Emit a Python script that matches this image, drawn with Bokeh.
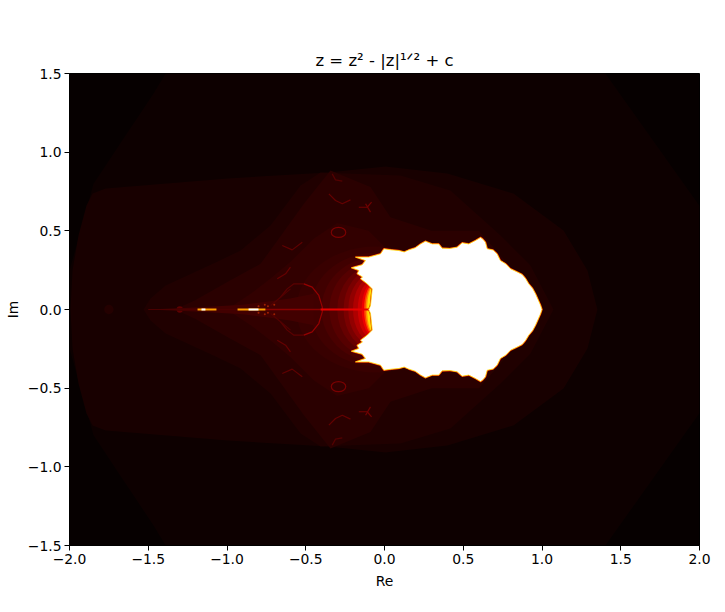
from bokeh.plotting import figure
from bokeh.embed import file_html
from bokeh.resources import INLINE
from bokeh.models import Range1d, FixedTicker

# ---- values (upper half; the picture is mirrored about Im = 0) ----
title_text = "z = z\u00b2 - |z|\u00b9\u141f\u00b2 + c"
x_name = "Re"
y_name = "Im"
tick_x = [-2.0, -1.5, -1.0, -0.5, 0.0, 0.5, 1.0, 1.5, 2.0]
tick_y = [-1.5, -1.0, -0.5, 0.0, 0.5, 1.0, 1.5]

outer_re = [-2.0, -1.848, -1.467, -1.39, 1.403, 2.0, 2.0]
outer_im = [0.248, 0.80, 1.373, 1.5, 1.5, 0.66, 0.0]
band_a_re = [-1.994, -1.981, -1.943, -1.892, -1.854, -1.771, -0.997, -0.362, 0.006, 0.400, 0.819, 1.137, 1.289, 1.352]
band_a_im = [0.0, 0.248, 0.470, 0.661, 0.737, 0.769, 0.833, 0.871, 0.909, 0.864, 0.737, 0.502, 0.248, 0.0]
band_c_re = [-1.53, -1.486, -1.39, -1.073, -0.914, -0.724, -0.533, -0.406, 0.102, 0.419, 0.737, 0.927, 1.073]
band_c_im = [0.0, 0.07, 0.153, 0.299, 0.375, 0.534, 0.788, 0.871, 0.852, 0.756, 0.470, 0.28, 0.0]
band_d_re = [-1.33, -1.2, -0.99, -0.787, -0.512, -0.343, -0.089, 0.038, 0.3, 0.6, 0.86, 0.93]
band_d_im = [0.0, 0.06, 0.18, 0.29, 0.672, 0.883, 0.778, 0.587, 0.5, 0.5, 0.2, 0.0]
band_e_re = [-1.0, -0.85, -0.72, -0.6, -0.45, -0.3, -0.1, 0.0, 0.2]
band_e_im = [0.0, 0.10, 0.2, 0.3, 0.45, 0.55, 0.5, 0.4, 0.0]
lens_re = [-1.5, -1.2, -0.9, -0.75, -0.6, -0.45]
lens_im = [0.0, 0.012, 0.03, 0.05, 0.07, 0.10]

glow_a = [0.50, 0.41, 0.34, 0.29, 0.24, 0.20, 0.17, 0.14, 0.11, 0.085, 0.07, 0.06, 0.05]
glow_b = [0.40, 0.36, 0.33, 0.305, 0.28, 0.26, 0.235, 0.215, 0.195, 0.18, 0.17, 0.165, 0.16]
glow_c = ["#380000", "#400000", "#4a0000", "#560000", "#660000", "#7a0000", "#920000",
          "#ae0000", "#cc0000", "#ee0000", "#ff4000", "#ff9000", "#ffe000"]

set_re = [-0.100, -0.089, -0.078, -0.110, -0.152, -0.140, -0.174, -0.163, -0.210, -0.142, -0.121, -0.184, -0.100,
          -0.025, -0.004, 0.045, 0.091, 0.125, 0.155, 0.195, 0.229, 0.260, 0.303, 0.345, 0.366, 0.415, 0.461, 0.493,
          0.535, 0.578, 0.610, 0.625, 0.641, 0.652, 0.690, 0.715, 0.736, 0.770, 0.800, 0.840, 0.874, 0.895, 0.916,
          0.940, 0.959, 0.990, 1.0]
set_im = [0.0, 0.025, 0.131, 0.163, 0.195, 0.207, 0.227, 0.248, 0.265, 0.284, 0.311, 0.333, 0.333,
          0.354, 0.386, 0.379, 0.375, 0.366, 0.379, 0.392, 0.417, 0.434, 0.417, 0.417, 0.390, 0.388, 0.396, 0.424,
          0.417, 0.439, 0.458, 0.447, 0.428, 0.386, 0.378, 0.354, 0.311, 0.290, 0.259, 0.240, 0.223, 0.198, 0.163,
          0.135, 0.100, 0.030, 0.0]

filaments = [
    ([-0.332, -0.311, -0.268], [0.862, 0.824, 0.816], "#540000"),
    ([-0.353, -0.311, -0.268, -0.216], [0.735, 0.693, 0.672, 0.697], "#640000"),
    ([-0.163, -0.110, -0.082], [0.650, 0.650, 0.682], "#700000"),
    ([-0.120, -0.089], [0.672, 0.619], "#700000"),
    ([-0.649, -0.586, -0.522], [0.407, 0.379, 0.428], "#600000"),
    ([-0.681, -0.628, -0.597], [0.195, 0.227, 0.269], "#660000"),
    ([-0.660, -0.618, -0.575, -0.512], [0.078, 0.131, 0.163, 0.163], "#5c0000"),
    ([-0.512, -0.459, -0.417, -0.395, -0.395], [0.163, 0.142, 0.089, 0.015, 0.0], "#960000"),
    ([-0.723, -0.660, -0.597], [0.025, 0.078, 0.131], "#520000"),
]
ring_re, ring_im, ring_w, ring_h = -0.292, 0.49, 0.092, 0.064

spine_from = [-1.5, -0.756, -0.406, -1.187, -0.933]
spine_to = [-0.10, -0.406, -0.09, -1.067, -0.756]
spine_c = ["#4a0000", "#880000", "#e80000", "#ffa000", "#ffa000"]
spine_w = [1, 1.5, 2, 2, 2]
seg_white = [(-1.162, -1.137), (-0.863, -0.80)]
spot_re = [-1.75, -1.3, -0.72]
spot_rad = [0.03, 0.02, 0.02]
spot_c = ["#240000", "#600000", "#700000"]
dot_re = [-0.80, -0.76, -0.74, -0.70]
dot_im = [0.02, 0.03, 0.02, 0.03]

p = figure(width=717, height=604, output_backend="svg", toolbar_location=None,
           x_range=Range1d(-2, 2), y_range=Range1d(-1.5, 1.5),
           min_border_left=69, min_border_right=18, min_border_top=73, min_border_bottom=59,
           background_fill_color="#060000", border_fill_color="white")
p.title.text = title_text
p.title.align = "center"
p.title.text_font = "DejaVu Sans"
p.title.text_font_size = "16.5px"
p.title.text_font_style = "normal"
p.title.text_color = "black"
p.title.standoff = 8
p.grid.visible = False
p.outline_line_color = "black"
p.outline_line_width = 1


def minus(v):
    return f"{v:.1f}".replace("-", "\u2212")


for ax, ticks, name, lab_off in ((p.xaxis[0], tick_x, x_name, 6), (p.yaxis[0], tick_y, y_name, 4)):
    ax.ticker = FixedTicker(ticks=ticks)
    ax.major_label_overrides = {t: minus(t) for t in ticks}
    ax.axis_label = name
    ax.axis_label_text_font = "DejaVu Sans"
    ax.axis_label_text_font_style = "normal"
    ax.axis_label_text_font_size = "13.9px"
    ax.major_label_text_font = "DejaVu Sans"
    ax.major_label_text_font_size = "13.9px"
    ax.major_tick_out = 5
    ax.major_tick_in = 0
    ax.minor_tick_out = 0
    ax.minor_tick_in = 0
    ax.major_label_text_color = "black"
    ax.axis_label_text_color = "black"
    ax.major_label_standoff = 3
    ax.axis_label_standoff = lab_off


def both(re, im):
    """closed outline of a shape given by its upper half, mirrored about Im = 0"""
    return list(re) + list(re)[::-1], list(im) + [-v for v in list(im)[::-1]]


def band(re, im, color):
    x, y = both(re, im)
    p.patch(x, y, fill_color=color, line_color=None)


band(outer_re, outer_im, "#0d0000")
band(band_a_re, band_a_im, "#180000")
band(band_c_re, band_c_im, "#200000")
band(band_d_re, band_d_im, "#2a0000")
band(band_e_re, band_e_im, "#320000")

p.ellipse(x=spot_re, y=[0] * len(spot_re), width=[2 * r for r in spot_rad], height=[2 * r for r in spot_rad],
          fill_color=spot_c, line_color=None)

for a, b, c in zip(glow_a, glow_b, glow_c):
    p.ellipse(x=[-0.06], y=[0], width=[2 * a], height=[2 * b], fill_color=c, line_color=None)

band(lens_re, lens_im, "#420000")

for re, im, c in filaments:
    p.line(re, im, line_color=c, line_width=1.2)
    p.line(re, [-v for v in im], line_color=c, line_width=1.2)
for sgn in (1, -1):
    p.ellipse(x=[ring_re], y=[sgn * ring_im], width=[ring_w], height=[ring_h],
              fill_color=None, line_color="#7a0000", line_width=1.2)
    p.scatter(dot_re, [sgn * v for v in dot_im], size=2, color="#a02000", line_color=None)

for a, b, c, w in zip(spine_from, spine_to, spine_c, spine_w):
    p.line([a, b], [0, 0], line_color=c, line_width=w)
for a, b in seg_white:
    p.line([a, b], [0, 0], line_color="white", line_width=2)

x, y = both(set_re, set_im)
p.patch(x, y, fill_color="white", line_color="#d80000", line_width=1.6)
p.patch(x, y, fill_color="white", line_color="#ffe000", line_width=0.8)

open("out.html", "w").write(file_html(p, INLINE))
